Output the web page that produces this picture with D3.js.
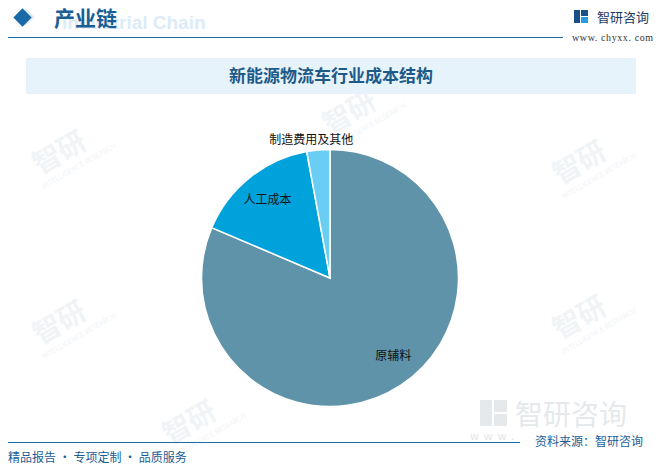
<!DOCTYPE html>
<html><head><meta charset="utf-8">
<script src="https://cdn.jsdelivr.net/npm/d3@7/dist/d3.min.js"></script>
<style>
html,body{margin:0;padding:0;background:#fff;}
svg{display:block;font-family:"Noto Sans CJK SC","Noto Sans",sans-serif;}
</style></head>
<body>
<svg id="c" width="663" height="467"></svg>
<script>
const categories = ["原辅料", "人工成本", "制造费用及其他"];
const values = [81.4, 15.7, 2.9];
const colors = ["#5f93a9", "#00a2db", "#69cdf4"];
const title = "新能源物流车行业成本结构";

const svg = d3.select("#c");
const W = 663, H = 467;

// watermarks
const wm = svg.append("g").attr("fill", "#f1f4f7");
[[40,175],[330,135],[560,185],[40,345],[300,310],[560,340],[170,445]].forEach(([x,y])=>{
  const g = wm.append("g").attr("transform", `translate(${x},${y}) rotate(-30)`);
  g.append("text").attr("x",0).attr("y",0).attr("font-size",28).attr("font-weight","bold").text("智研");
  g.append("text").attr("x",-4).attr("y",14).attr("font-size",7).text("INTELLIGENCE RESEARCH");
});

// header
svg.append("text").attr("x",62).attr("y",29).attr("font-family","Arial, sans-serif").attr("font-weight","bold")
  .attr("font-size",19).attr("fill","#dcebf7").text("Industrial Chain");
svg.append("rect").attr("x",20).attr("y",11).attr("width",12).attr("height",12)
  .attr("fill","#dde9f3").attr("transform","rotate(45 26 17)");
svg.append("rect").attr("x",16).attr("y",11).attr("width",13).attr("height",13)
  .attr("fill","#1a6aa8").attr("transform","rotate(45 22.5 17.5)");
svg.append("text").attr("x",54).attr("y",26).attr("font-size",21).attr("font-weight","bold")
  .attr("fill","#1b5d95").text("产业链");
svg.append("line").attr("x1",8).attr("x2",563).attr("y1",37.5).attr("y2",37.5)
  .attr("stroke","#1a6aa8").attr("stroke-width",1.2);

// logo top-right
const lg = svg.append("g").attr("transform","translate(574,10)");
lg.append("rect").attr("x",0).attr("y",0).attr("width",6).attr("height",13).attr("fill","#1b4f8a");
lg.append("rect").attr("x",7).attr("y",0).attr("width",7).attr("height",6).attr("fill","#1b4f8a");
lg.append("rect").attr("x",7).attr("y",7).attr("width",7).attr("height",6).attr("fill","#2a9be0");
svg.append("text").attr("x",597).attr("y",22).attr("font-size",13).attr("fill","#1a3a66").text("智研咨询");
svg.append("text").attr("x",572).attr("y",41).attr("font-size",10).attr("font-family","'Liberation Serif', serif")
  .attr("fill","#333").attr("letter-spacing",0.6).text("www. chyxx. com");

// title bar
svg.append("rect").attr("x",26).attr("y",58).attr("width",610).attr("height",36).attr("fill","#e6f3fb");
svg.append("text").attr("x",331).attr("y",82).attr("text-anchor","middle").attr("font-size",17)
  .attr("font-weight","bold").attr("fill","#1e5a88").text(title);

// bottom right watermark logo
const bw = svg.append("g").attr("transform","translate(480,400)");
bw.append("rect").attr("x",0).attr("y",0).attr("width",12).attr("height",26).attr("fill","#e6e9ec");
bw.append("rect").attr("x",14).attr("y",0).attr("width",13).attr("height",12).attr("fill","#e6e9ec");
bw.append("rect").attr("x",14).attr("y",14).attr("width",13).attr("height",12).attr("fill","#e6e9ec");
svg.append("text").attr("x",515).attr("y",425).attr("font-size",28).attr("fill","#e6e9ec").text("智研咨询");
svg.append("text").attr("x",470).attr("y",440).attr("font-size",11).attr("fill","#e3e5e8")
  .attr("letter-spacing",5).text("www.");

// pie
const cx = 330, cy = 278, R = 128.5;
const data = categories.map((c,i)=>({name:c, value:values[i], color:colors[i]}));
const pie = d3.pie().value(d=>d.value).sort(null);
const arcs = pie(data);
const arc = d3.arc().innerRadius(0).outerRadius(R);
const labelArc = d3.arc().innerRadius(100).outerRadius(100);
const outArc = d3.arc().innerRadius(139).outerRadius(139);
const g = svg.append("g").attr("transform",`translate(${cx},${cy})`);
g.selectAll("path").data(arcs).join("path")
  .attr("d", arc).attr("fill", d=>d.data.color).attr("stroke","#fff").attr("stroke-width",1.5);
g.selectAll("text.lbl").data(arcs).join("text").attr("class","lbl")
  .attr("transform", (d,i)=>{
    let p;
    if ((d.endAngle - d.startAngle) < 0.3) { p = outArc.centroid(d); p = [p[0]-6, p[1]]; }
    else if (i === 0) { const a = (d.startAngle + d.endAngle)/2 - 0.1; p = [100*Math.sin(a), -100*Math.cos(a)]; }
    else p = labelArc.centroid(d);
    return `translate(${p[0]},${p[1]})`;
  })
  .attr("text-anchor","middle").attr("dy","0.35em").attr("font-size",12).attr("fill","#111")
  .text(d=>d.data.name);

// footer
svg.append("line").attr("x1",8).attr("x2",520).attr("y1",442.5).attr("y2",442.5)
  .attr("stroke","#1a6aa8").attr("stroke-width",1.2);
svg.append("text").attr("x",535).attr("y",446).attr("font-size",12).attr("fill","#1b5d95").text("资料来源：智研咨询");
svg.append("text").attr("x",8).attr("y",462).attr("font-size",12).attr("fill","#1b5d95").text("精品报告 · 专项定制 · 品质服务");
</script>
</body></html>
